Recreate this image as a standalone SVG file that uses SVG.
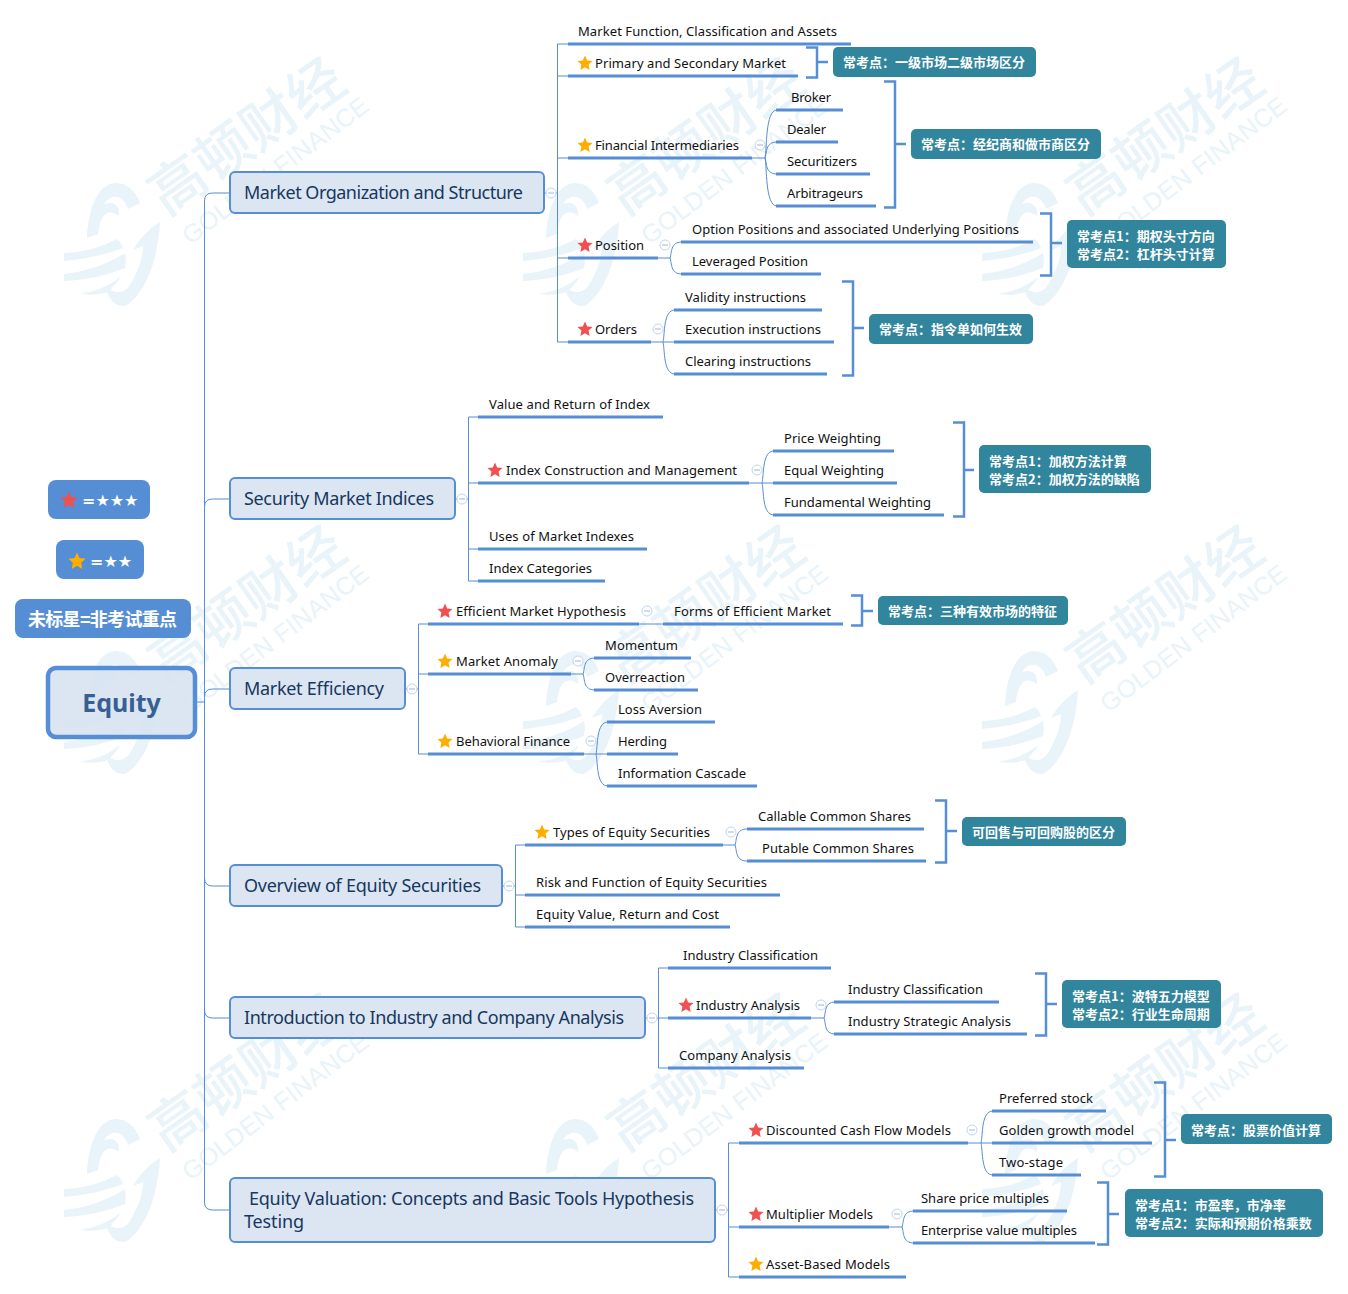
<svg xmlns="http://www.w3.org/2000/svg" width="1348" height="1294" viewBox="0 0 1348 1294">
<style>
text{font-family:"Noto Sans","Open Sans","Noto Sans CJK SC",sans-serif}
.l{font-size:13px;fill:#111}
.t{font-size:18px;fill:#17375e}
.n{fill:#dce6f2;stroke:#558ed5;stroke-width:2}
.u{stroke:#558ed5;stroke-width:3;fill:none}
.c{stroke:#558ed5;stroke-width:1;fill:none}
.b{stroke:#558ed5;stroke-width:2.5;fill:none}
.s{fill:#31859c}
.sx{font-family:"Noto Sans CJK SC","Noto Sans",sans-serif;font-size:13px;font-weight:700;fill:#fff}
.lg{fill:#558ed5}
.lx{font-family:"DejaVu Sans","Noto Sans CJK SC",sans-serif;font-size:16px;font-weight:700;fill:#fff}
.lc{font-family:"Noto Sans CJK SC",sans-serif;font-size:18px;font-weight:700;fill:#fff}
.wf{fill:#e9f3fa}
.wa{font-family:"Noto Sans CJK SC",sans-serif;font-size:56px;font-weight:500;fill:#e9f3fa}
.wb{font-family:"Liberation Sans",sans-serif;font-size:25px;fill:#e9f3fa}
.o{fill:#fff;stroke:#c3d3ee;stroke-width:1}
.m{stroke:#9db4dc;stroke-width:1}
</style>
<defs>
<polygon id="star" points="0,-7.500 2.200,-2.600 7.500,-2 3.600,1.500 4.600,7 0,4.200 -4.600,7 -3.600,1.500 -7.500,-2 -2.200,-2.600"/>
<g id="minus"><circle class="o" r="5"/><path class="m" d="M-3 0H3"/></g>
<g id="wm">
<path class="wf" d="M87 238C88 212 96 184 116 183C128 183 136 192 140 203L128 209C124 196 112 192 104 204C116 200 120 208 119 216C108 208 100 214 98 234Z"/>
<path class="wf" d="M64 253C85 252 102 247 117 239C120 242 122 245 123 248C105 255 85 259 64 261Z"/>
<path class="wf" d="M64 274C85 272 108 264 125 253C126 258 126 263 125 268C105 276 85 280 64 281Z"/>
<path class="wf" d="M80 293C92 293 108 287 120 277C118 282 112 288 108 292C98 295 88 296 80 293Z"/>
<path class="wf" d="M160 222C158 260 145 295 125 306C114 307 108 298 105 285C114 295 124 294 130 285C138 272 143 258 143 246L133 250C140 238 150 228 160 222Z"/>
<text class="wa" transform="translate(247,137) rotate(-35)" y="19" text-anchor="middle">高顿财经</text>
<text class="wb" transform="translate(275,170) rotate(-37)" y="9" text-anchor="middle" textLength="226">GOLDEN FINANCE</text>
</g>
</defs>
<rect width="1348" height="1294" fill="#fff"/>
<g id="watermarks">
<use href="#wm"/><use href="#wm" x="459"/><use href="#wm" x="918"/>
<use href="#wm" y="468"/><use href="#wm" x="459" y="468"/><use href="#wm" x="918" y="468"/>
<use href="#wm" y="936"/><use href="#wm" x="459" y="936"/><use href="#wm" x="918" y="936"/>
</g>
<g id="connectors">
<path class="c" d="M196 702H204.500M204.500 1202V201Q204.500 193 212.500 193H230M204.500 507Q204.500 499 212.500 499H230M204.500 697Q204.500 689 212.500 689H230M204.500 878Q204.500 886 212.500 886H230M204.500 1010Q204.500 1018 212.500 1018H230M204.500 1202Q204.500 1210 212.500 1210H230"/>
<path class="c" d="M544 193H557.500M557.500 44V342M557.500 44H568M557.500 76H568M557.500 158H568M557.500 258H568M557.500 342H568"/>
<path class="c" d="M752 158H765M765 158C767 150 765 110 777 110M765 158C767 153 765 142 777 142M765 158C767 163 765 174 777 174M765 158C767 166 765 206 777 206"/>
<path class="c" d="M658 258H670M670 258C672 253 670 242 682 242M670 258C672 263 670 274 682 274"/>
<path class="c" d="M651 342H663M663 342C665 334 663 310 675 310M663 342H675M663 342C665 350 663 374 675 374"/>
<path class="c" d="M455 499H468.500M468.500 417V581M468.500 417H478M468.500 483H478M468.500 549H478M468.500 581H478"/>
<path class="c" d="M749 483H762M762 483C764 475 762 451 774 451M762 483H774M762 483C764 491 762 515 774 515"/>
<path class="c" d="M405 689H418.500M418.500 624V754M418.500 624H428M418.500 674H428M418.500 754H428"/>
<path class="c" d="M639 624H663"/>
<path class="c" d="M571 674H583M583 674C585 669 583 658 595 658M583 674C585 679 583 690 595 690"/>
<path class="c" d="M584 754H596M596 754C598 746 596 722 608 722M596 754H608M596 754C598 762 596 786 608 786"/>
<path class="c" d="M502 886H515.500M515.500 845V927M515.500 845H525M515.500 895H525M515.500 927H525"/>
<path class="c" d="M723 845H735M735 845C737 840 735 829 747 829M735 845C737 850 735 861 747 861"/>
<path class="c" d="M645 1018H658.500M658.500 968V1068M658.500 968H668M658.500 1018H668M658.500 1068H668"/>
<path class="c" d="M811 1018H824M824 1018C826 1013 824 1002 835 1002M824 1018C826 1023 824 1034 835 1034"/>
<path class="c" d="M715 1210H728.500M728.500 1143V1277M728.500 1143H739M728.500 1227H739M728.500 1277H739"/>
<path class="c" d="M968 1143H981M981 1143C983 1135 981 1111 993 1111M981 1143H993M981 1143C983 1151 981 1175 993 1175"/>
<path class="c" d="M889 1227H902M902 1227C904 1222 902 1211 914 1211M902 1227C904 1232 902 1243 914 1243"/>
<path class="b" d="M806 47.500H817V77.500H806M817 62H828"/>
<path class="b" d="M884 81.500H895V207.500H884M895 144H906"/>
<path class="b" d="M1040 213.500H1051V275.500H1040M1051 243H1062"/>
<path class="b" d="M842 281.500H853V375.500H842M853 328H864"/>
<path class="b" d="M953 422.500H964V516.500H953M964 470H974"/>
<path class="b" d="M851 595.500H862V625.500H851M862 611H873"/>
<path class="b" d="M935 800.500H946V862.500H935M946 831H957"/>
<path class="b" d="M1035 973.500H1046V1035.500H1035M1046 1004H1057"/>
<path class="b" d="M1154 1082.500H1165V1176.500H1154M1165 1140H1176"/>
<path class="b" d="M1097 1182.500H1108V1244.500H1097M1108 1214H1119"/>
</g>
<g id="legend-three"><rect class="lg" x="48" y="480" width="102" height="39" rx="8"/><use href="#star" fill="#f05050" transform="translate(69 500) scale(1.15)"/><text class="lx" x="82" y="506">=★★★</text></g>
<g id="legend-two"><rect class="lg" x="56" y="540" width="88" height="39" rx="8"/><use href="#star" fill="#ffae00" transform="translate(77 561) scale(1.15)"/><text class="lx" x="90" y="567">=★★</text></g>
<g id="legend-none"><rect class="lg" x="15" y="599" width="176" height="39" rx="8"/><text class="lc" x="28" y="626" textLength="149">未标星=非考试重点</text></g>
<g id="root"><rect x="48" y="668" width="147" height="69" rx="8" fill="#d6e2f0" fill-opacity=".85" stroke="#558ed5" stroke-width="4.500"/><text x="121.500" y="712" text-anchor="middle" font-size="25" font-weight="700" fill="#376092">Equity</text></g>

<g id="t1"><rect class="n" x="230" y="172" width="314" height="41" rx="5"/><text class="t" x="244" y="199" textLength="279">Market Organization and Structure</text><use href="#minus" x="551" y="193"/></g>
<g id="t2"><rect class="n" x="230" y="478" width="225" height="41" rx="5"/><text class="t" x="244" y="505" textLength="190">Security Market Indices</text><use href="#minus" x="462" y="499"/></g>
<g id="t3"><rect class="n" x="230" y="668" width="175" height="41" rx="5"/><text class="t" x="244" y="695" textLength="140">Market Efficiency</text><use href="#minus" x="412" y="689"/></g>
<g id="t4"><rect class="n" x="230" y="865" width="272" height="41" rx="5"/><text class="t" x="244" y="892" textLength="237">Overview of Equity Securities</text><use href="#minus" x="509" y="886"/></g>
<g id="t5"><rect class="n" x="230" y="997" width="415" height="41" rx="5"/><text class="t" x="244" y="1024" textLength="380">Introduction to Industry and Company Analysis</text><use href="#minus" x="652" y="1018"/></g>
<g id="t6"><rect class="n" x="230" y="1178" width="485" height="64" rx="5"/><text class="t" x="249" y="1205" textLength="445">Equity Valuation: Concepts and Basic Tools Hypothesis</text><text class="t" x="244" y="1228" textLength="60">Testing</text><use href="#minus" x="722" y="1210"/></g>

<g id="n1"><path class="u" d="M568 44H851"/><text class="l" x="578" y="36" textLength="259">Market Function, Classification and Assets</text></g>
<g id="n2"><path class="u" d="M568 76H798"/><use href="#star" x="585" y="63" fill="#ffae00"/><text class="l" x="595" y="68" textLength="191">Primary and Secondary Market</text></g>
<g id="n3"><path class="u" d="M568 158H752"/><use href="#star" x="585" y="145" fill="#ffae00"/><text class="l" x="595" y="150" textLength="144">Financial Intermediaries</text><use href="#minus" x="760" y="145"/></g>
<g id="n4"><path class="u" d="M776 110H843"/><text class="l" x="791" y="102" textLength="40">Broker</text></g>
<g id="n5"><path class="u" d="M776 142H838"/><text class="l" x="787" y="134" textLength="39">Dealer</text></g>
<g id="n6"><path class="u" d="M776 174H870"/><text class="l" x="787" y="166" textLength="70">Securitizers</text></g>
<g id="n7"><path class="u" d="M776 206H876"/><text class="l" x="787" y="198" textLength="76">Arbitrageurs</text></g>
<g id="n8"><path class="u" d="M568 258H658"/><use href="#star" x="585" y="245" fill="#f05050"/><text class="l" x="595" y="250" textLength="49">Position</text><use href="#minus" x="665" y="245"/></g>
<g id="n9"><path class="u" d="M681 242H1033"/><text class="l" x="692" y="234" textLength="327">Option Positions and associated Underlying Positions</text></g>
<g id="n10"><path class="u" d="M681 274H821"/><text class="l" x="692" y="266" textLength="116">Leveraged Position</text></g>
<g id="n11"><path class="u" d="M568 342H651"/><use href="#star" x="585" y="329" fill="#f05050"/><text class="l" x="595" y="334" textLength="42">Orders</text><use href="#minus" x="658" y="329"/></g>
<g id="n12"><path class="u" d="M674 310H822"/><text class="l" x="685" y="302" textLength="121">Validity instructions</text></g>
<g id="n13"><path class="u" d="M674 342H834"/><text class="l" x="685" y="334" textLength="136">Execution instructions</text></g>
<g id="n14"><path class="u" d="M674 374H827"/><text class="l" x="685" y="366" textLength="126">Clearing instructions</text></g>

<g id="n15"><path class="u" d="M478 417H663"/><text class="l" x="489" y="409" textLength="161">Value and Return of Index</text></g>
<g id="n16"><path class="u" d="M478 483H749"/><use href="#star" x="495" y="470" fill="#f05050"/><text class="l" x="506" y="475" textLength="231">Index Construction and Management</text><use href="#minus" x="757" y="470"/></g>
<g id="n17"><path class="u" d="M773 451H894"/><text class="l" x="784" y="443" textLength="97">Price Weighting</text></g>
<g id="n18"><path class="u" d="M773 483H897"/><text class="l" x="784" y="475" textLength="100">Equal Weighting</text></g>
<g id="n19"><path class="u" d="M773 515H944"/><text class="l" x="784" y="507" textLength="147">Fundamental Weighting</text></g>
<g id="n20"><path class="u" d="M478 549H647"/><text class="l" x="489" y="541" textLength="145">Uses of Market Indexes</text></g>
<g id="n21"><path class="u" d="M478 581H605"/><text class="l" x="489" y="573" textLength="103">Index Categories</text></g>

<g id="n22"><path class="u" d="M428 624H639"/><use href="#star" x="445" y="611" fill="#f05050"/><text class="l" x="456" y="616" textLength="170">Efficient Market Hypothesis</text><use href="#minus" x="647" y="611"/></g>
<g id="n23"><path class="u" d="M663 624H843"/><text class="l" x="674" y="616" textLength="157">Forms of Efficient Market</text></g>
<g id="n24"><path class="u" d="M428 674H571"/><use href="#star" x="445" y="661" fill="#ffae00"/><text class="l" x="456" y="666" textLength="102">Market Anomaly</text><use href="#minus" x="578" y="661"/></g>
<g id="n25"><path class="u" d="M594 658H691"/><text class="l" x="605" y="650" textLength="73">Momentum</text></g>
<g id="n26"><path class="u" d="M594 690H698"/><text class="l" x="605" y="682" textLength="80">Overreaction</text></g>
<g id="n27"><path class="u" d="M428 754H584"/><use href="#star" x="445" y="741" fill="#ffae00"/><text class="l" x="456" y="746" textLength="114">Behavioral Finance</text><use href="#minus" x="591" y="741"/></g>
<g id="n28"><path class="u" d="M607 722H715"/><text class="l" x="618" y="714" textLength="84">Loss Aversion</text></g>
<g id="n29"><path class="u" d="M607 754H678"/><text class="l" x="618" y="746" textLength="49">Herding</text></g>
<g id="n30"><path class="u" d="M607 786H757"/><text class="l" x="618" y="778" textLength="128">Information Cascade</text></g>

<g id="n31"><path class="u" d="M525 845H723"/><use href="#star" x="542" y="832" fill="#ffae00"/><text class="l" x="553" y="837" textLength="157">Types of Equity Securities</text><use href="#minus" x="731" y="832"/></g>
<g id="n32"><path class="u" d="M747 829H924"/><text class="l" x="758" y="821" textLength="153">Callable Common Shares</text></g>
<g id="n33"><path class="u" d="M747 861H926"/><text class="l" x="762" y="853" textLength="152">Putable Common Shares</text></g>
<g id="n34"><path class="u" d="M525 895H780"/><text class="l" x="536" y="887" textLength="231">Risk and Function of Equity Securities</text></g>
<g id="n35"><path class="u" d="M525 927H730"/><text class="l" x="536" y="919" textLength="183">Equity Value, Return and Cost</text></g>

<g id="n36"><path class="u" d="M668 968H831"/><text class="l" x="683" y="960" textLength="135">Industry Classification</text></g>
<g id="n37"><path class="u" d="M668 1018H811"/><use href="#star" x="686" y="1005" fill="#f05050"/><text class="l" x="696" y="1010" textLength="104">Industry Analysis</text><use href="#minus" x="821" y="1005"/></g>
<g id="n38"><path class="u" d="M834 1002H999"/><text class="l" x="848" y="994" textLength="135">Industry Classification</text></g>
<g id="n39"><path class="u" d="M834 1034H1027"/><text class="l" x="848" y="1026" textLength="163">Industry Strategic Analysis</text></g>
<g id="n40"><path class="u" d="M668 1068H804"/><text class="l" x="679" y="1060" textLength="112">Company Analysis</text></g>

<g id="n41"><path class="u" d="M739 1143H968"/><use href="#star" x="756" y="1130" fill="#f05050"/><text class="l" x="766" y="1135" textLength="185">Discounted Cash Flow Models</text><use href="#minus" x="972" y="1130"/></g>
<g id="n42"><path class="u" d="M992 1111H1106"/><text class="l" x="999" y="1103" textLength="94">Preferred stock</text></g>
<g id="n43"><path class="u" d="M992 1143H1152"/><text class="l" x="999" y="1135" textLength="135">Golden growth model</text></g>
<g id="n44"><path class="u" d="M992 1175H1081"/><text class="l" x="999" y="1167" textLength="64">Two-stage</text></g>
<g id="n45"><path class="u" d="M739 1227H889"/><use href="#star" x="756" y="1214" fill="#f05050"/><text class="l" x="766" y="1219" textLength="107">Multiplier Models</text><use href="#minus" x="897" y="1214"/></g>
<g id="n46"><path class="u" d="M913 1211H1067"/><text class="l" x="921" y="1203" textLength="128">Share price multiples</text></g>
<g id="n47"><path class="u" d="M913 1243H1095"/><text class="l" x="921" y="1235" textLength="156">Enterprise value multiples</text></g>
<g id="n48"><path class="u" d="M739 1277H906"/><use href="#star" x="756" y="1264" fill="#ffae00"/><text class="l" x="766" y="1269" textLength="124">Asset-Based Models</text></g>

<g id="s1"><rect class="s" x="833" y="47" width="203" height="30" rx="5"/><text class="sx" x="843" y="67">常考点：一级市场二级市场区分</text></g>
<g id="s2"><rect class="s" x="911" y="129" width="190" height="30" rx="5"/><text class="sx" x="921" y="149">常考点：经纪商和做市商区分</text></g>
<g id="s3"><rect class="s" x="1067" y="220" width="159" height="48" rx="5"/><text class="sx" x="1077" y="241">常考点1：期权头寸方向</text><text class="sx" x="1077" y="259">常考点2：杠杆头寸计算</text></g>
<g id="s4"><rect class="s" x="869" y="314" width="164" height="30" rx="5"/><text class="sx" x="879" y="334">常考点：指令单如何生效</text></g>
<g id="s5"><rect class="s" x="979" y="445" width="172" height="48" rx="5"/><text class="sx" x="989" y="466">常考点1：加权方法计算</text><text class="sx" x="989" y="484">常考点2：加权方法的缺陷</text></g>
<g id="s6"><rect class="s" x="878" y="596" width="190" height="29" rx="5"/><text class="sx" x="888" y="616">常考点：三种有效市场的特征</text></g>
<g id="s7"><rect class="s" x="962" y="817" width="164" height="29" rx="5"/><text class="sx" x="972" y="837">可回售与可回购股的区分</text></g>
<g id="s8"><rect class="s" x="1062" y="980" width="159" height="48" rx="5"/><text class="sx" x="1072" y="1001">常考点1：波特五力模型</text><text class="sx" x="1072" y="1019">常考点2：行业生命周期</text></g>
<g id="s9"><rect class="s" x="1181" y="1114" width="151" height="30" rx="5"/><text class="sx" x="1191" y="1135">常考点：股票价值计算</text></g>
<g id="s10"><rect class="s" x="1125" y="1189" width="198" height="48" rx="5"/><text class="sx" x="1135" y="1210">常考点1：市盈率，市净率</text><text class="sx" x="1135" y="1228">常考点2：实际和预期价格乘数</text></g>
</svg>
